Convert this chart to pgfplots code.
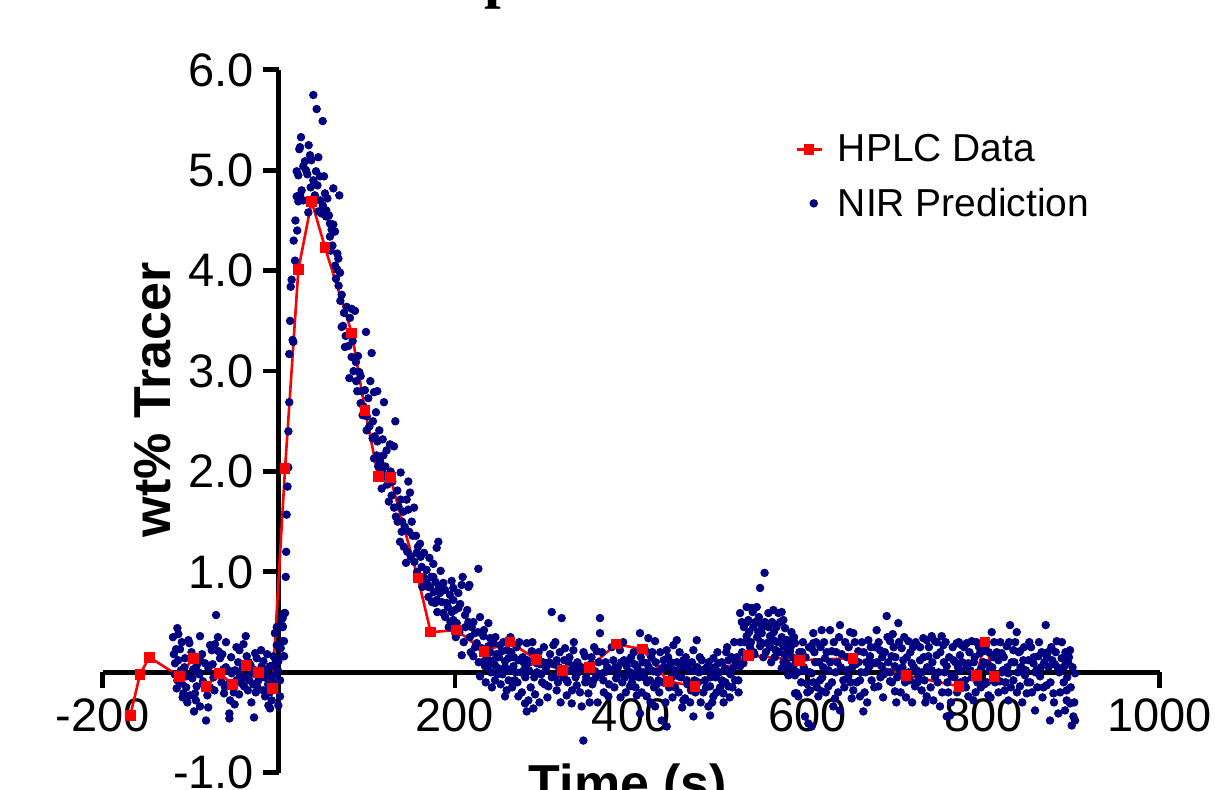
\documentclass[border=0pt]{standalone}
\usepackage{pgfplots}
\pgfplotsset{compat=1.18}
\usepackage{pgfplotstable}
\usepackage{fontspec}
\setmainfont{Liberation Sans}
\newfontfamily\titlefont{Liberation Serif}
\definecolor{nirblue}{RGB}{0,0,128}
\definecolor{hplcred}{RGB}{255,0,0}

\pgfplotstableread{
x y
-168.5 -0.43
-157.4 -0.02
-146.9 0.15
-112.8 -0.04
-96.9 0.14
-82.5 -0.14
-67.4 -0.01
-52.2 -0.12
-37.1 0.07
-22.7 0.00
-7.3 -0.16
7.2 2.03
22.3 4.01
37.4 4.69
52.6 4.23
82.9 3.38
98.0 2.61
113.0 1.95
126.6 1.94
158.0 0.94
172.5 0.40
202.0 0.42
233.0 0.21
262.5 0.30
292.0 0.13
322.0 0.02
352.6 0.05
383.0 0.28
413.0 0.23
442.0 -0.09
472.5 -0.14
533.0 0.17
591.0 0.12
652.0 0.14
712.0 -0.03
772.0 -0.14
792.0 -0.03
801.7 0.30
812.0 -0.04
}\hplc

\pgfplotstableread{
x y
-120.0 0.35
-119.0 0.18
-118.0 -0.02
-117.7 0.09
-116.5 0.23
-115.8 -0.16
-115.0 0.44
-115.0 -0.08
-114.0 0.12
-113.9 0.38
-112.0 0.23
-111.0 0.02
-110.1 -0.11
-110.0 0.30
-109.0 -0.25
-108.2 -0.21
-107.0 0.05
-106.3 0.14
-105.0 -0.15
-104.4 -0.04
-103.7 -0.30
-102.5 0.32
-101.4 0.29
-100.6 -0.23
-99.0 0.20
-98.0 -0.06
-97.0 0.03
-96.1 -0.39
-95.0 -0.21
-94.0 -0.28
-93.1 -0.14
-93.0 0.07
-91.0 0.00
-90.0 -0.02
-89.3 -0.34
-89.3 0.36
-89.3 0.12
-87.0 0.18
-86.0 -0.09
-85.0 -0.12
-83.6 0.09
-82.5 -0.48
-81.0 -0.23
-80.0 -0.35
-79.8 0.04
-78.0 -0.15
-77.9 0.27
-76.0 0.22
-75.0 0.08
-74.0 -0.05
-73.0 -0.18
-72.3 0.28
-71.1 0.57
-70.0 -0.02
-69.0 0.35
-68.5 0.21
-66.6 0.14
-65.0 -0.10
-64.0 0.18
-62.8 0.03
-62.0 -0.21
-61.0 -0.15
-60.0 0.05
-59.8 0.30
-58.0 -0.12
-57.1 0.02
-56.0 -0.41
-56.0 -0.46
-55.2 -0.28
-54.0 0.15
-53.3 -0.01
-51.0 -0.20
-50.0 -0.32
-49.6 0.02
-48.0 0.25
-47.7 -0.08
-46.0 0.10
-45.0 -0.22
-44.6 0.22
-43.9 -0.04
-42.0 -0.11
-41.0 0.04
-40.0 0.28
-39.3 -0.14
-38.0 -0.05
-37.4 0.36
-36.3 0.16
-35.0 -0.18
-34.0 0.10
-33.3 -0.08
-32.0 0.07
-31.0 -0.30
-30.6 -0.01
-29.0 -0.12
-28.0 -0.45
-27.0 0.02
-26.8 0.19
-26.0 -0.20
-24.9 0.14
-24.0 -0.15
-23.0 -0.08
-21.0 -0.03
-20.0 0.22
-19.3 0.06
-17.4 0.11
-17.4 -0.18
-16.0 -0.05
-15.5 -0.24
-14.0 0.02
-13.0 0.18
-12.0 -0.12
-11.7 -0.33
-10.0 -0.20
-9.8 -0.36
-9.8 0.06
-8.0 -0.05
-7.9 -0.28
-6.1 0.07
-6.0 0.16
-5.0 -0.10
-4.2 0.39
-4.2 0.14
-4.1 0.39
-3.0 -0.01
-2.2 0.45
-2.2 0.27
-1.0 0.02
-0.4 0.11
-0.4 -0.33
1.5 -0.08
1.5 -0.24
2.3 0.24
3.5 0.53
4.5 0.54
4.5 0.46
4.6 0.45
4.6 0.31
5.3 0.16
6.0 0.31
6.1 0.16
6.5 0.59
7.2 0.59
8.0 0.95
8.5 1.20
9.0 1.57
10.0 1.85
10.9 2.04
11.0 2.40
12.0 2.69
12.0 3.17
13.0 3.50
13.6 3.84
14.7 3.91
15.8 3.31
16.6 3.29
17.0 4.30
18.5 4.10
19.0 4.50
20.4 4.99
20.4 4.74
21.0 4.40
22.3 4.95
22.3 4.69
23.4 5.21
24.2 5.23
24.2 4.75
25.3 5.33
26.0 4.80
27.9 5.04
28.0 4.70
29.8 5.09
31.0 5.00
32.5 4.96
33.6 4.58
34.0 5.25
35.5 5.15
36.3 4.83
37.0 5.10
39.3 5.75
39.3 4.90
41.0 4.75
42.3 4.99
43.1 5.61
44.0 4.85
45.0 5.13
45.0 4.59
46.9 4.94
47.0 4.70
48.8 4.57
49.9 5.49
50.0 4.65
51.4 4.94
52.5 4.77
53.7 4.54
54.0 4.60
55.2 4.72
57.0 4.55
58.2 4.47
58.2 4.34
59.0 4.20
60.1 4.41
61.0 4.25
62.0 4.82
62.0 4.46
63.9 4.39
64.0 4.05
65.0 3.92
66.5 4.17
66.5 4.01
67.7 4.12
68.0 3.85
68.8 4.75
69.6 3.98
70.0 3.70
71.5 3.76
71.5 3.44
73.0 3.45
74.1 3.58
75.2 3.24
76.0 3.35
77.1 3.64
79.0 3.25
80.2 2.93
80.9 3.53
82.8 3.62
82.8 3.14
84.0 3.30
85.0 3.00
86.6 3.60
87.7 3.09
88.0 2.90
89.2 2.80
90.0 3.15
91.5 2.99
93.0 2.95
93.0 2.68
94.0 2.80
95.3 2.56
96.0 2.65
97.9 2.81
99.1 3.39
99.8 2.41
100.0 2.55
101.7 2.73
103.0 2.45
104.0 2.90
105.5 3.18
106.6 2.33
107.0 2.50
108.2 2.79
108.2 2.13
109.0 2.35
110.4 2.59
111.2 2.16
111.9 2.80
112.0 2.30
113.0 2.05
114.2 2.41
115.0 2.10
116.9 1.83
117.0 2.00
118.0 2.32
118.8 2.16
119.5 2.69
120.0 1.95
121.0 2.05
122.5 2.21
123.3 1.87
124.0 1.95
125.0 1.70
126.3 2.27
127.0 2.00
128.2 1.76
129.0 1.90
130.9 2.25
130.9 1.64
132.4 2.50
133.0 1.55
134.6 1.81
135.0 1.50
136.0 1.65
137.7 1.30
138.4 1.99
138.4 1.72
139.6 1.40
140.0 1.50
141.5 1.60
142.0 1.25
143.0 1.45
144.5 1.09
145.2 1.72
146.0 1.20
147.1 1.90
147.1 1.62
148.0 1.40
149.0 1.79
150.0 1.15
151.0 1.50
152.1 1.36
153.6 1.64
154.0 1.10
155.8 1.36
156.6 1.19
157.0 1.00
158.0 1.25
159.0 0.95
160.4 1.28
161.0 1.15
162.3 1.05
163.0 0.85
164.2 0.95
164.9 1.19
166.0 0.90
167.9 1.02
168.0 0.89
169.9 0.85
170.0 0.75
171.0 1.14
171.7 0.85
173.0 0.95
174.0 0.70
175.5 1.08
175.5 0.95
176.0 0.80
177.4 0.69
178.0 0.90
179.3 1.24
179.3 0.72
180.0 0.60
181.2 1.30
182.0 0.85
183.1 0.79
183.8 1.01
185.0 0.70
186.9 0.89
186.9 0.59
188.8 0.82
189.0 0.55
190.7 0.69
192.0 0.65
193.0 0.45
194.5 0.77
195.0 0.50
196.3 0.91
196.4 0.60
198.2 0.84
198.2 0.72
198.2 0.52
200.0 0.62
201.0 0.35
202.0 0.49
203.9 0.79
203.9 0.64
205.0 0.40
206.0 0.68
207.7 0.87
207.7 0.17
208.8 0.95
210.0 0.30
211.5 0.57
212.0 0.45
214.0 0.62
215.3 0.85
215.3 0.50
216.4 0.87
217.0 0.35
218.0 0.20
219.1 0.45
220.9 0.16
221.0 0.50
222.8 0.39
223.0 0.25
224.7 0.29
226.0 0.40
226.6 1.03
227.0 0.10
228.5 0.55
228.5 -0.04
230.4 0.24
231.0 0.10
232.3 0.36
233.0 0.42
234.2 0.06
235.0 -0.10
236.0 0.15
237.0 0.05
238.0 0.49
238.0 0.26
239.9 0.34
239.9 0.09
240.0 0.20
241.0 0.00
242.0 -0.15
243.7 0.29
244.0 0.12
245.5 0.07
245.5 -0.08
246.0 0.35
247.0 0.18
248.0 -0.02
249.3 0.04
250.0 0.15
251.2 0.27
252.0 -0.12
253.1 0.21
254.0 -0.02
255.0 0.30
256.9 0.11
256.9 -0.24
257.0 0.05
258.8 -0.18
259.0 0.22
260.7 0.14
261.0 -0.08
262.0 0.02
263.0 0.35
264.0 0.20
265.0 -0.15
266.4 0.06
267.0 0.15
268.0 -0.08
269.0 0.00
270.0 0.25
271.0 -0.10
272.0 0.12
272.0 -0.24
273.0 0.30
275.0 0.00
276.0 -0.20
277.0 0.15
278.0 0.10
279.6 0.04
279.6 -0.31
280.0 -0.05
281.5 0.29
281.5 -0.39
282.0 0.12
283.4 -0.28
284.0 0.02
285.0 0.10
286.0 -0.15
287.2 0.21
288.0 0.30
289.1 -0.36
290.0 -0.05
291.0 -0.22
292.8 0.09
293.0 0.00
294.0 0.15
295.0 0.20
296.0 -0.30
297.0 0.08
298.0 -0.02
299.0 -0.10
300.0 0.10
301.0 0.25
302.0 -0.12
303.0 0.02
304.2 0.06
305.0 -0.25
306.1 -0.14
307.0 0.10
308.0 0.18
309.9 0.60
310.0 -0.05
311.8 0.27
312.0 0.08
313.7 -0.04
314.0 0.30
315.5 0.12
315.5 -0.18
317.0 -0.10
318.0 0.05
319.0 0.20
320.0 -0.30
321.2 0.54
322.0 0.00
323.0 -0.05
324.0 0.12
325.0 0.24
326.9 -0.08
326.9 -0.23
328.0 -0.10
329.0 0.10
330.0 0.15
331.0 0.02
332.6 -0.31
333.0 -0.18
334.5 0.22
335.0 0.30
336.4 0.06
337.0 -0.05
338.3 -0.13
339.0 0.10
340.0 0.00
342.0 -0.20
343.9 -0.34
344.0 0.05
345.8 -0.68
346.0 0.20
347.7 0.16
348.0 -0.10
349.0 -0.05
350.0 0.02
351.5 -0.21
353.0 -0.30
354.0 0.08
355.0 0.15
356.0 -0.12
357.2 -0.08
358.0 0.25
359.1 0.01
360.0 -0.05
361.0 0.21
362.0 -0.30
363.0 0.10
364.7 0.54
364.7 0.39
366.0 -0.02
367.0 0.20
368.5 -0.08
369.0 -0.20
370.0 0.00
371.0 0.10
373.0 0.05
374.2 -0.24
375.0 -0.12
376.0 0.02
378.0 0.25
379.9 0.12
381.0 -0.15
382.0 0.05
383.0 -0.06
385.0 0.05
386.0 -0.02
387.4 0.22
388.0 -0.25
389.0 0.10
390.0 -0.10
391.0 0.30
392.0 0.12
393.0 -0.05
394.0 -0.20
395.0 0.06
397.0 0.12
398.8 -0.14
399.0 0.00
400.0 0.15
401.0 -0.10
402.6 -0.04
403.0 0.20
404.0 0.08
405.0 -0.15
406.4 -0.23
407.0 0.05
408.0 0.02
409.0 -0.05
410.1 0.39
410.1 -0.41
411.0 0.15
412.0 -0.20
413.0 0.10
414.0 0.00
415.0 -0.05
416.0 0.22
417.7 0.09
417.7 -0.24
418.0 -0.10
419.6 0.34
420.0 0.05
421.5 -0.08
422.0 -0.30
423.0 0.15
424.0 0.20
425.3 0.01
426.0 -0.15
427.2 0.31
427.2 -0.34
428.0 0.10
429.0 -0.12
430.0 0.00
431.0 -0.08
432.0 -0.20
433.0 0.20
434.7 0.04
434.7 -0.48
436.0 -0.10
437.0 0.12
438.0 0.05
439.0 -0.30
440.4 0.22
440.4 -0.11
440.4 -0.54
442.0 0.15
443.0 -0.15
444.2 0.06
445.0 0.10
446.0 -0.05
447.0 -0.25
448.0 0.27
449.0 0.02
450.0 -0.15
451.8 0.32
452.0 0.10
453.7 -0.04
454.0 -0.20
455.0 0.20
456.0 0.05
457.0 -0.05
458.0 -0.35
459.3 0.12
459.3 -0.28
460.0 0.05
461.2 -0.26
462.0 0.15
463.1 -0.08
464.0 -0.12
465.0 0.08
466.0 0.02
467.0 -0.30
468.0 -0.18
469.0 0.10
470.7 0.22
470.7 0.02
470.7 -0.44
472.0 -0.08
473.0 -0.20
474.5 0.32
475.0 0.05
476.0 -0.10
477.0 0.00
478.0 0.15
479.0 -0.30
480.2 0.12
481.0 0.02
482.0 -0.20
483.9 -0.08
485.0 -0.15
486.0 0.05
487.7 -0.34
488.0 0.10
489.6 -0.14
489.6 -0.43
490.0 -0.05
491.0 0.00
492.0 -0.30
493.4 0.14
493.4 -0.24
495.0 0.05
496.0 -0.05
497.0 -0.20
498.0 0.20
499.1 0.09
500.0 0.00
501.0 -0.15
502.9 -0.08
503.0 0.10
504.7 -0.21
505.0 -0.30
506.6 0.04
507.0 -0.10
508.0 0.20
509.0 0.25
510.4 0.12
510.4 -0.14
511.0 0.00
512.0 -0.25
513.0 -0.02
514.0 0.15
515.0 -0.15
516.1 0.04
517.0 0.30
518.0 -0.08
519.0 0.10
520.0 0.15
521.8 -0.08
522.0 -0.20
523.7 0.06
523.7 0.59
524.0 0.30
525.6 0.50
526.0 0.20
527.5 0.09
528.0 0.45
529.0 0.30
530.0 0.15
531.2 0.65
531.2 0.36
532.0 0.50
533.1 0.52
534.0 0.40
535.0 0.25
536.0 0.30
536.9 0.64
538.0 0.60
538.8 0.45
539.0 0.20
540.0 0.18
541.0 0.50
542.6 0.65
543.0 0.35
544.5 0.40
545.0 0.55
546.4 0.49
546.4 0.84
546.4 0.26
547.0 0.30
548.3 0.39
549.0 0.45
550.0 0.15
551.5 0.99
552.0 0.50
553.0 0.20
553.9 0.29
555.8 0.59
556.0 0.45
557.7 0.36
558.0 0.25
559.0 0.10
560.0 0.50
561.5 0.62
561.5 0.32
562.0 0.40
563.0 0.15
564.0 0.22
565.0 0.45
566.0 0.30
567.2 0.59
568.0 0.20
569.1 0.50
570.9 0.60
570.9 0.04
571.0 0.35
572.8 0.52
572.9 0.26
573.0 0.10
574.7 0.44
574.7 0.17
575.0 0.30
576.6 0.32
576.6 0.09
577.0 0.20
578.5 -0.03
579.0 0.05
580.4 0.32
580.4 0.21
581.0 0.25
582.0 0.40
583.0 0.15
584.1 0.31
584.2 0.06
585.0 0.35
586.0 -0.03
586.0 -0.21
586.1 0.29
587.0 0.10
588.0 -0.21
589.0 0.00
589.8 -0.24
591.0 0.20
592.0 0.10
593.0 -0.10
594.0 0.20
595.0 0.30
596.0 0.05
597.4 0.02
597.4 -0.44
598.0 0.15
599.3 -0.11
600.0 -0.20
601.2 -0.51
602.0 0.25
603.0 0.00
603.1 -0.18
604.9 -0.01
604.9 0.24
604.9 -0.54
606.8 0.39
606.8 0.29
607.0 -0.10
608.0 0.20
609.0 0.10
610.0 0.30
611.0 -0.15
612.5 -0.24
613.0 0.10
614.4 -0.08
615.0 0.25
616.3 0.42
616.3 -0.19
617.0 -0.05
618.0 0.05
619.0 0.30
620.1 0.14
621.0 -0.20
622.0 0.20
623.9 0.02
623.9 -0.14
625.8 0.42
626.0 0.10
627.7 0.21
628.0 -0.10
629.5 -0.34
630.0 0.30
631.4 -0.26
632.0 0.00
633.0 0.20
634.0 0.10
635.0 -0.20
636.0 0.35
637.1 0.47
637.1 -0.38
638.0 0.05
639.0 0.18
640.9 -0.08
642.0 -0.15
643.0 0.30
644.7 0.02
645.0 0.15
646.6 -0.04
647.0 0.25
648.5 0.40
649.0 -0.10
650.4 -0.26
651.0 0.05
652.2 0.39
652.2 -0.18
654.0 0.30
655.0 0.08
656.0 -0.10
657.9 0.21
658.0 0.10
659.8 -0.08
659.8 -0.24
661.0 0.00
662.0 0.30
663.6 -0.39
664.0 0.20
665.0 -0.20
666.0 0.00
667.0 0.10
668.0 -0.30
669.3 0.32
670.0 0.05
671.2 0.16
672.0 0.25
673.0 -0.08
674.9 0.09
676.0 -0.15
677.0 0.25
678.7 0.42
679.0 0.10
680.6 -0.14
681.0 0.30
682.5 0.22
683.0 -0.05
684.4 0.06
685.0 0.15
686.0 -0.25
687.0 -0.02
688.0 0.20
689.0 0.00
690.1 0.56
691.0 0.35
692.0 0.10
693.9 0.31
693.9 -0.09
694.0 0.00
695.8 0.16
696.0 -0.10
697.0 0.38
698.0 0.25
699.5 0.06
699.5 -0.19
700.0 0.15
701.0 -0.30
702.0 -0.05
703.3 0.49
704.0 0.30
705.0 0.02
706.0 -0.20
707.1 0.24
708.0 0.05
709.0 0.12
710.0 0.35
711.0 -0.10
712.0 -0.25
713.0 0.15
714.7 0.31
715.0 0.00
716.6 -0.08
717.0 0.20
718.5 0.09
719.0 -0.30
720.0 0.25
721.0 0.05
722.3 -0.14
723.0 0.30
724.0 0.02
725.0 -0.10
726.0 -0.04
727.9 0.12
728.0 0.25
729.8 -0.18
730.0 0.00
731.7 0.34
732.0 0.15
733.0 -0.08
734.0 -0.30
735.5 0.32
735.5 -0.24
736.0 0.05
737.4 0.16
738.0 0.25
739.0 0.02
740.0 -0.15
741.2 0.36
741.2 0.02
742.0 0.10
743.1 -0.28
744.9 0.31
745.0 -0.05
746.8 0.17
747.0 0.30
748.0 -0.10
749.0 0.00
750.6 -0.34
751.0 0.20
752.5 0.36
753.0 -0.20
754.4 0.27
755.0 0.10
756.0 0.00
757.0 0.30
758.2 0.06
758.2 -0.44
759.0 -0.10
760.0 -0.20
761.0 0.15
762.0 -0.43
763.0 -0.30
763.9 -0.04
765.0 0.25
766.0 0.12
767.0 -0.05
768.0 0.10
769.6 0.29
770.0 -0.20
771.0 0.05
772.0 0.30
773.3 0.17
773.3 0.02
774.0 -0.10
775.2 0.27
776.0 0.10
777.0 -0.15
778.0 0.25
779.0 -0.08
780.0 -0.15
780.9 0.29
781.0 0.05
782.8 0.09
782.8 -0.24
784.0 0.20
785.0 0.02
786.6 0.31
787.0 -0.05
788.5 -0.28
789.0 0.10
790.0 0.15
791.0 -0.20
792.0 0.30
793.0 -0.10
794.0 0.00
795.0 0.25
796.0 0.19
797.0 -0.15
798.0 0.05
799.8 0.21
800.0 0.10
801.0 -0.12
802.0 0.25
803.6 0.09
804.0 -0.10
805.5 -0.23
806.0 0.20
807.0 0.02
808.0 -0.25
809.3 0.40
810.0 0.05
811.0 0.15
812.0 0.30
813.0 -0.10
814.0 -0.05
815.0 0.20
816.9 0.12
817.0 -0.20
818.7 -0.09
819.0 0.30
820.6 0.19
821.0 0.00
822.0 0.02
823.0 0.15
824.0 -0.18
825.0 -0.10
826.3 0.26
827.0 0.05
828.2 -0.01
828.2 -0.28
829.0 0.30
830.1 0.47
831.0 -0.15
832.0 0.10
833.9 0.22
833.9 -0.08
835.0 0.10
836.0 0.30
837.7 0.40
838.0 -0.20
839.0 0.00
840.0 0.20
841.4 0.21
841.4 -0.14
842.0 0.05
843.0 0.05
844.0 -0.30
845.2 0.12
846.0 0.25
847.1 -0.03
848.0 0.02
849.0 -0.21
850.0 -0.10
850.9 0.12
852.0 0.30
853.0 -0.10
854.0 0.25
855.0 -0.20
856.6 0.09
857.0 0.15
858.5 -0.38
859.0 0.00
860.0 0.02
861.0 -0.15
862.3 0.16
863.0 0.30
864.2 -0.04
865.0 0.05
866.0 0.20
867.0 -0.25
868.0 -0.15
869.0 0.10
870.6 0.47
871.7 0.16
871.7 -0.13
873.0 0.20
874.0 0.05
875.5 -0.48
876.0 -0.10
877.0 0.25
878.0 0.12
879.3 -0.21
880.0 -0.30
881.0 0.08
882.0 0.20
883.1 0.31
884.0 0.05
884.9 -0.41
886.0 0.00
887.0 -0.20
888.7 0.14
889.0 0.30
890.6 0.04
891.0 -0.10
892.5 0.07
892.5 -0.38
893.0 0.20
894.4 -0.18
894.4 -0.28
895.0 -0.05
896.0 0.10
897.0 0.15
898.2 0.22
898.2 -0.31
899.0 -0.15
900.1 -0.53
901.0 0.05
902.0 -0.44
903.0 -0.30
903.9 -0.01
903.9 -0.48
}\nir

\begin{document}
\begin{tikzpicture}[x=1pt,y=1pt]
\begin{axis}[
  at={(51.25pt,8.65pt)}, anchor=south west,
  scale only axis, width=528.6pt, height=351.4pt,
  xmin=-200, xmax=1000, ymin=-1, ymax=6,
  axis lines=middle,
  axis line style={-, line width=2.4pt, black},
  every tick/.style={black, line width=2.4pt},
  tick align=outside,
  major tick length=7.8pt,
  xtick={-200,200,400,600,800,1000},
  ytick={-1,1,2,3,4,5,6},
  minor tick num=0,
  /pgf/number format/assume math mode=true,
  /pgf/number format/1000 sep={},
  ticklabel style={font=\fontsize{23.5}{26}\selectfont},
  yticklabel style={/pgf/number format/fixed, /pgf/number format/fixed zerofill, /pgf/number format/precision=1, xshift=-1pt},
  xticklabel style={yshift=-2pt},
  clip=false,
  reverse legend,
  legend style={draw=none, fill=none, at={(axis cs:586,5.40)}, anchor=north west,
    font=\fontsize{19.5}{23}\selectfont, row sep=7.5pt, inner sep=0pt,
    cells={anchor=west},
    /tikz/every odd column/.append style={column sep=5.5pt}},
  legend cell align=left,
]
\addplot[only marks, mark=*, mark size=1.9pt, color=nirblue, mark options={draw=nirblue, fill=nirblue}] table[x=x,y=y]{\nir};
\addlegendentry{NIR Prediction}
\addplot[color=hplcred, line width=1.3pt, mark=square*, mark size=2.4pt, mark options={fill=hplcred, draw=hplcred, line width=0pt},
  legend image code/.code={\draw[mark repeat=2,mark phase=2] plot coordinates {(0pt,0pt) (6.25pt,0pt) (12.5pt,0pt)};}] table[x=x,y=y]{\hplc};
\addlegendentry{HPLC Data}
\end{axis}
\node[rotate=90, anchor=base, font=\bfseries\fontsize{26}{30}\selectfont] at (85pt,195pt) {wt\% Tracer};
\node[anchor=base, font=\bfseries\fontsize{26}{30}\selectfont] at (314pt,-6pt) {Time (s)};
\node[anchor=base west, font=\titlefont\bfseries\fontsize{30}{34}\selectfont] at (202pt,396.5pt) {Impulse Tracer Test};
\pgfresetboundingbox
\useasboundingbox (0,0) rectangle (607.5pt,395pt);
\end{tikzpicture}
\end{document}
